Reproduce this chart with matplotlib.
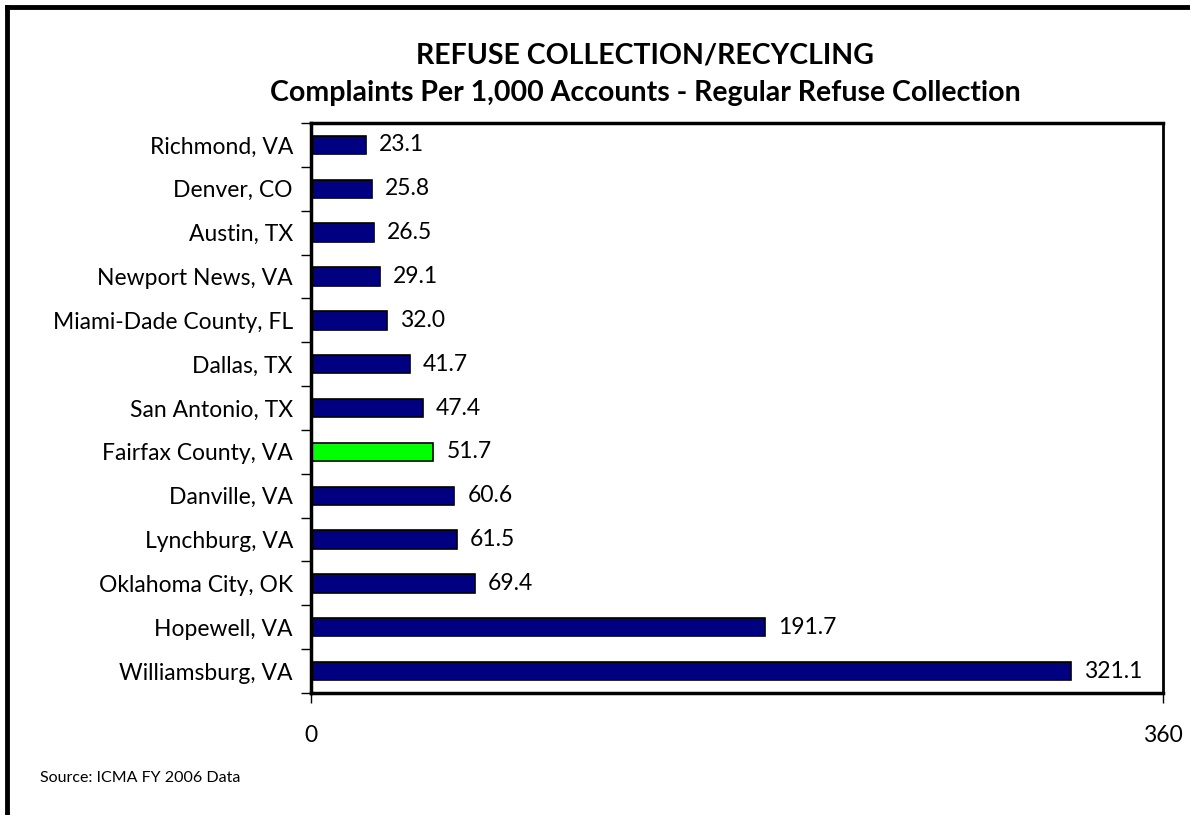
import numpy as np
import matplotlib.pyplot as plt
from matplotlib.lines import Line2D

cities = ['Richmond, VA', 'Denver, CO', 'Austin, TX', 'Newport News, VA',
          'Miami-Dade County, FL', 'Dallas, TX', 'San Antonio, TX',
          'Fairfax County, VA', 'Danville, VA', 'Lynchburg, VA',
          'Oklahoma City, OK', 'Hopewell, VA', 'Williamsburg, VA']
values = [23.1, 25.8, 26.5, 29.1, 32.0, 41.7, 47.4, 51.7, 60.6, 61.5, 69.4, 191.7, 321.1]
highlight = 'Fairfax County, VA'

plt.rcParams['font.family'] = ['Lato', 'DejaVu Sans']

fig = plt.figure(figsize=(11.9, 8.15), dpi=100)
ax = fig.add_axes([0.2613, 0.1497, 0.716, 0.6993])

y = np.arange(len(cities))
colors = ['#00FF00' if c == highlight else '#000080' for c in cities]
ax.barh(y, values, height=0.42, color=colors, edgecolor='black', linewidth=1.2)

for yi, v in zip(y, values):
    ax.text(v + 5.5, yi, f'{v:.1f}', va='center', ha='left', fontsize=16.5)

ax.set_xlim(0, 360)
ax.set_ylim(len(cities) - 0.5, -0.5)
ax.set_xticks([0, 360])
ax.set_xticklabels(['0', '360'], fontsize=16.5)
ax.tick_params(axis='x', length=7, width=1, pad=16, direction='out')

ax.set_yticks(y)
ax.set_yticklabels(cities, fontsize=16.5)
ax.tick_params(axis='y', which='major', length=0, pad=13)
ax.set_yticks(np.arange(-0.5, len(cities)), minor=True)
ax.tick_params(axis='y', which='minor', length=7, width=1, direction='out')

for s in ['top', 'bottom', 'left']:
    ax.spines[s].set_linewidth(2.5)
ax.spines['right'].set_linewidth(2)

fig.text(0.542, 0.9215, 'REFUSE COLLECTION/RECYCLING', ha='center', va='baseline',
         fontsize=20.5, fontweight='bold')
fig.text(0.542, 0.876, 'Complaints Per 1,000 Accounts - Regular Refuse Collection',
         ha='center', va='baseline', fontsize=20.5, fontweight='bold')
fig.text(0.034, 0.045, 'Source: ICMA FY 2006 Data', ha='left', va='center', fontsize=11.5)

# frame lines at top and left
fig.add_artist(Line2D([0.0059, 1.0], [0.9914, 0.9914], color='black', linewidth=3.5,
                      transform=fig.transFigure))
fig.add_artist(Line2D([0.0059, 0.0059], [0.0, 0.9914], color='black', linewidth=3.5,
                      transform=fig.transFigure))

fig.savefig('out.png', dpi=100)
